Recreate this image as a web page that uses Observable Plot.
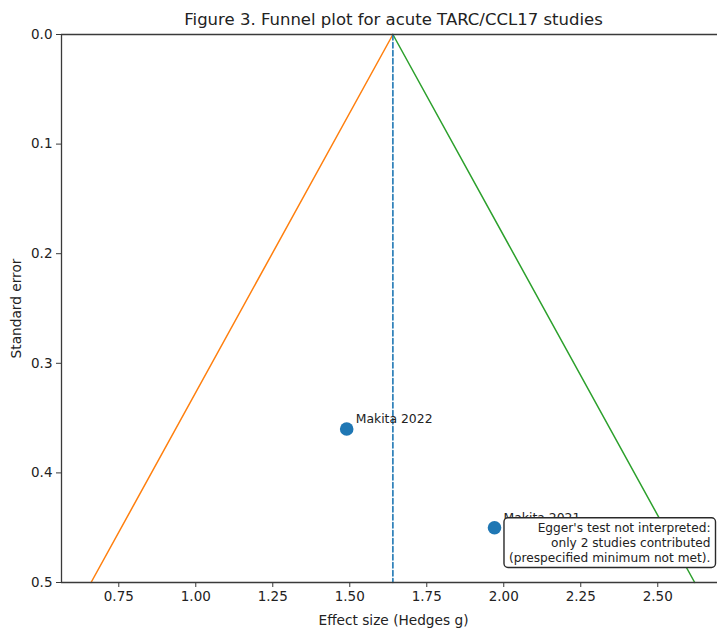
<!DOCTYPE html>
<html>
<head>
<meta charset="utf-8">
<script src="https://cdn.jsdelivr.net/npm/d3@7"></script>
<script src="https://cdn.jsdelivr.net/npm/@observablehq/plot@0.6"></script>
<style>
  html, body { margin: 0; padding: 0; background: #fff; }
  #chart { width: 717px; height: 631px; overflow: hidden; }
</style>
</head>
<body>
<div id="chart"></div>
<script>
// Data
const studies = ["Makita 2022", "Makita 2021"];
const hedgesG = [1.49, 1.97];
const standardError = [0.36, 0.45];
const pooledEffect = 1.64;
const funnelSE = [0.0, 0.5];
const funnelLower = [1.64, 0.66];
const funnelUpper = [1.64, 2.62];
const xTicks = [0.75, 1.00, 1.25, 1.50, 1.75, 2.00, 2.25, 2.50];
const yTicks = [0.0, 0.1, 0.2, 0.3, 0.4, 0.5];
const titleText = "Figure 3. Funnel plot for acute TARC/CCL17 studies";
const noteLines = ["Egger's test not interpreted:", "only 2 studies contributed", "(prespecified minimum not met)."];

const points = studies.map((s, i) => ({study: s, g: hedgesG[i], se: standardError[i]}));
const lowerLine = funnelSE.map((se, i) => ({se, g: funnelLower[i]}));
const upperLine = funnelSE.map((se, i) => ({se, g: funnelUpper[i]}));
const centerLine = funnelSE.map(se => ({se, g: pooledEffect}));

const font = "DejaVu Sans, sans-serif";
const ink = "#3a3a3a";

const plot = Plot.plot({
  width: 717,
  height: 631,
  marginTop: 34,
  marginBottom: 49,
  marginLeft: 61,
  marginRight: 0,
  style: {fontFamily: font, fontSize: "13.5px", color: ink, background: "#fff", overflow: "visible"},
  x: {domain: [0.564, 2.694], ticks: xTicks, tickFormat: d3.format(".2f"), label: null},
  y: {domain: [0, 0.5], reverse: true, ticks: yTicks, tickFormat: d3.format(".1f"), label: null},
  marks: [
    Plot.line(lowerLine, {x: "g", y: "se", stroke: "#ff7f0e", strokeWidth: 1.5}),
    Plot.line(upperLine, {x: "g", y: "se", stroke: "#2ca02c", strokeWidth: 1.5}),
    Plot.line(centerLine, {x: "g", y: "se", stroke: "#1f77b4", strokeWidth: 1.6, strokeDasharray: "5.5,2.5"}),
    Plot.dot(points, {x: "g", y: "se", r: 6.8, fill: "#1f77b4", stroke: "none"}),
    Plot.text(points, {x: "g", y: "se", text: "study", textAnchor: "start", dx: 9, dy: -10, fill: "#222", fontSize: 12.4}),
    Plot.axisX({ticks: xTicks, tickFormat: d3.format(".2f"), tickSize: 5, tickPadding: 4, stroke: ink, fill: "#222", fontSize: 13.5}),
    Plot.axisY({ticks: yTicks, tickFormat: d3.format(".1f"), tickSize: 5, tickPadding: 4, stroke: ink, fill: "#222", fontSize: 13.5}),
    Plot.ruleX([0.564], {stroke: ink, strokeWidth: 1.3}),
    Plot.ruleY([0, 0.5], {stroke: ink, strokeWidth: 1.3}),
    Plot.text([noteLines.join("\n")], {frameAnchor: "bottom-right", textAnchor: "end", lineAnchor: "bottom", dx: -7, dy: -21, fill: "#222", fontSize: 12.2, lineHeight: 1.22, className: "note"}),
    Plot.text([titleText], {frameAnchor: "top", dx: 4, dy: -10, lineAnchor: "bottom", fill: "#222", fontSize: 16.5}),
    Plot.text(["Effect size (Hedges g)"], {frameAnchor: "bottom", dx: 4, dy: 42, lineAnchor: "bottom", fill: "#222", fontSize: 13.7}),
    Plot.text(["Standard error"], {frameAnchor: "left", dx: -45, rotate: -90, textAnchor: "middle", fill: "#222", fontSize: 13.7})
  ]
});

document.getElementById("chart").appendChild(plot);

// Rounded box behind the annotation note (inserted in the same group so it shares its transform)
const noteG = d3.select(plot).select("g.note");
if (!noteG.empty()) {
  const bb = noteG.node().getBBox();
  const padX = 5, padY = 3;
  noteG.insert("rect", ":first-child")
    .attr("x", bb.x - padX)
    .attr("y", bb.y - padY)
    .attr("width", bb.width + 2 * padX)
    .attr("height", bb.height + 2 * padY)
    .attr("rx", 4)
    .attr("fill", "#fff")
    .attr("stroke", "#2a2a2a")
    .attr("stroke-width", 1.4);
}
</script>
</body>
</html>
